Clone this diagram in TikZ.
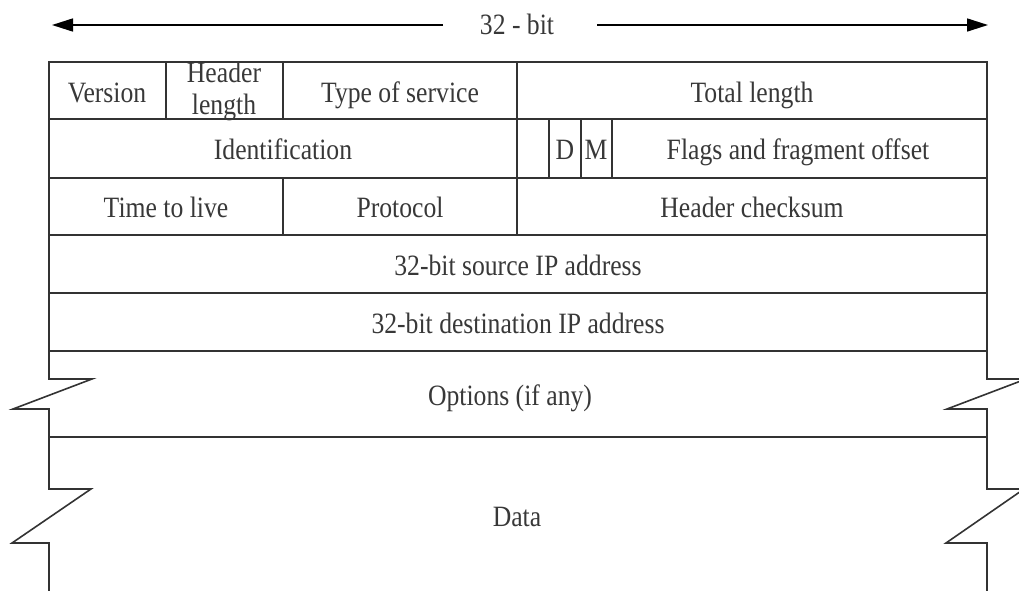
\documentclass[tikz,border=0pt]{standalone}
\usepackage{fontspec}
\setmainfont[FakeStretch=0.87]{Liberation Serif}
\usetikzlibrary{arrows.meta}
\tikzset{
  grid/.style={line width=1.6pt, draw=black!80},
  lbl/.style={font=\fontsize{29.5}{32}\selectfont, text=black!78, inner sep=0pt, anchor=base},
  arr/.style={line width=1.6pt, draw=black, -{Triangle[length=21pt,width=13pt]}}
}
\begin{document}
\begin{tikzpicture}[x=1pt,y=-1pt]
\useasboundingbox (0,0) rectangle (1019,590);
\clip (0,0) rectangle (1019,590);
% top dimension
\node[lbl] (bits) at (517,34) {32 - bit};
\coordinate (la) at (443,25);
\coordinate (lt) at (52,25);
\coordinate (ra) at (597,25);
\coordinate (rt) at (988,25);
\draw[arr] (la) -- (lt);
\draw[arr] (ra) -- (rt);
% header grid
\draw[grid] (49,62) rectangle (987,351);
\draw[grid] (49,119) -- (987,119);
\draw[grid] (49,178) -- (987,178);
\draw[grid] (49,235) -- (987,235);
\draw[grid] (49,293) -- (987,293);
\draw[grid] (166,62) -- (166,119);
\draw[grid] (283,62) -- (283,119);
\draw[grid] (517,62) -- (517,235);
\draw[grid] (283,178) -- (283,235);
\draw[grid] (549,119) -- (549,178);
\draw[grid] (581,119) -- (581,178);
\draw[grid] (612,119) -- (612,178);
% options and data with breaks
\draw[grid] (49,437) -- (987,437);
\draw[grid] (49,351) -- (49,379) -- (92,379) -- (13,409) -- (49,409) -- (49,489) -- (91,489) -- (12,543) -- (49,543) -- (49,592);
\draw[grid] (987,351) -- (987,379) -- (1026,379) -- (947,409) -- (987,409) -- (987,489) -- (1024,489) -- (946,543) -- (987,543) -- (987,592);
% labels
\node[lbl] (ver) at (107,102) {Version};
\node[lbl] (hl1) at (224,82) {Header};
\node[lbl] (hl2) at (224,114) {length};
\node[lbl] (tos) at (400,102) {Type of service};
\node[lbl] (tl) at (752,102) {Total length};
\node[lbl] (id) at (283,159) {Identification};
\node[lbl] (d) at (565,159) {D};
\node[lbl] (m) at (596,159) {M};
\node[lbl] (ff) at (798,159) {Flags and fragment offset};
\node[lbl] (ttl) at (166,217) {Time to live};
\node[lbl] (pr) at (400,217) {Protocol};
\node[lbl] (hc) at (752,217) {Header checksum};
\node[lbl] (src) at (518,275) {32-bit source IP address};
\node[lbl] (dst) at (518,333) {32-bit destination IP address};
\node[lbl] (opt) at (510,405) {Options (if any)};
\node[lbl] (data) at (517,526) {Data};
\end{tikzpicture}
\end{document}
